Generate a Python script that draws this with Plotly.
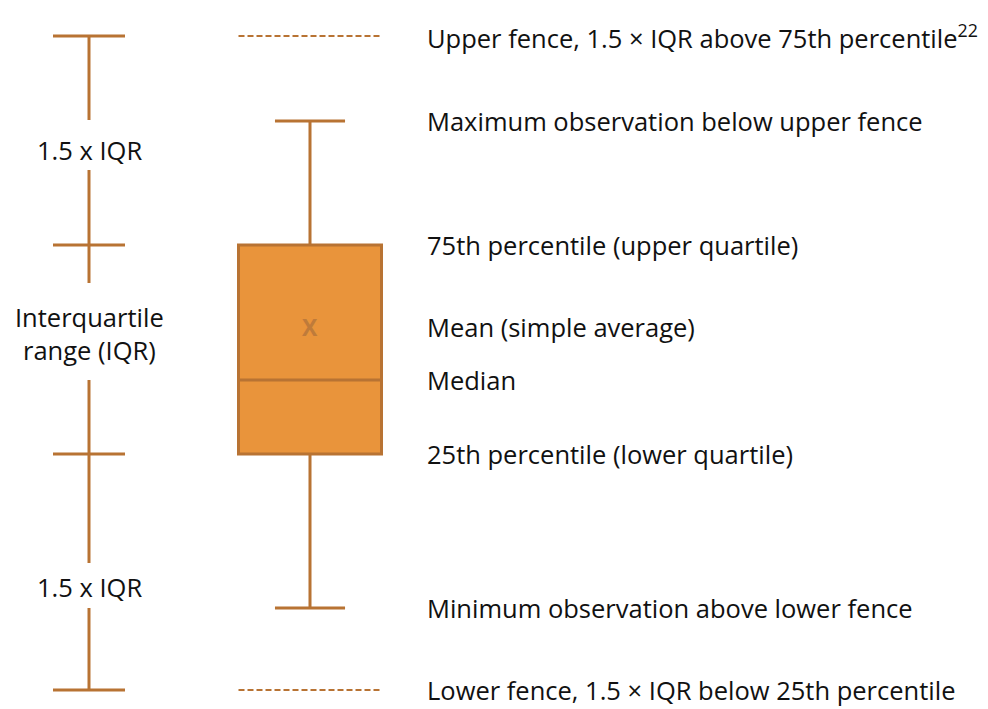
import plotly.graph_objects as go

# Schematic box-plot statistics (arbitrary units)
stat_names = ["upper_fence", "maximum", "q3", "mean", "median", "q1", "minimum", "lower_fence"]
upper_fence = 673
maximum = 588
q3 = 464
mean = 382
median = 329
q1 = 255
minimum = 101
lower_fence = 19

right_labels = [
    "Upper fence, 1.5 × IQR above 75th percentile<sup>22</sup>",
    "Maximum observation below upper fence",
    "75th percentile (upper quartile)",
    "Mean (simple average)",
    "Median",
    "25th percentile (lower quartile)",
    "Minimum observation above lower fence",
    "Lower fence, 1.5 × IQR below 25th percentile",
]
right_values = [upper_fence, maximum, q3, mean, median, q1, minimum, lower_fence]
left_labels = ["1.5 x IQR", "Interquartile<br>range (IQR)", "1.5 x IQR"]

LINE = "#B87333"
FILL = "#E9943B"
FONT = "Open Sans"
FS = 25.5

BOX_X = 310
BOX_W = 143
BRK_X = 89
CAP_HALF = 36

fig = go.Figure()

# main box
fig.add_trace(go.Box(
    x=[BOX_X], q1=[q1], median=[median], q3=[q3],
    lowerfence=[minimum], upperfence=[maximum],
    width=BOX_W, whiskerwidth=0.49,
    fillcolor=FILL, line=dict(color=LINE, width=3),
    boxpoints=False, showlegend=False, hoverinfo="skip",
))

# dashed fences
for fv in (upper_fence, lower_fence):
    fig.add_trace(go.Scatter(
        x=[BOX_X - BOX_W / 2, BOX_X + BOX_W / 2], y=[fv, fv], mode="lines",
        line=dict(color=LINE, width=2, dash="6px,3px"),
        showlegend=False, hoverinfo="skip",
    ))

# left bracket: caps
for v in (upper_fence, q3, q1, lower_fence):
    fig.add_trace(go.Scatter(
        x=[BRK_X - CAP_HALF, BRK_X + CAP_HALF], y=[v, v], mode="lines",
        line=dict(color=LINE, width=3), showlegend=False, hoverinfo="skip",
    ))

# left bracket: vertical segments with gaps for labels
label_y = [559, 376, 122]
gaps = [(539, 589), (329, 426), (101, 146)]
tops = [upper_fence, q3, q1]
bottoms = [q3, q1, lower_fence]
seg_x, seg_y = [], []
for top, bot, (g_lo, g_hi) in zip(tops, bottoms, gaps):
    seg_x += [BRK_X, BRK_X, None, BRK_X, BRK_X, None]
    seg_y += [top, g_hi, None, g_lo, bot, None]
fig.add_trace(go.Scatter(
    x=seg_x, y=seg_y, mode="lines", line=dict(color=LINE, width=3),
    showlegend=False, hoverinfo="skip",
))

annotations = []
# mean marker
annotations.append(dict(
    x=BOX_X, y=mean, xref="x", yref="y", text="<b>X</b>", showarrow=False,
    xanchor="center", yanchor="middle",
    font=dict(family=FONT, size=23, color="#BF7B3A"),
))
for lab, v in zip(right_labels, right_values):
    annotations.append(dict(
        x=425, y=v, xref="x", yref="y", text=lab, showarrow=False,
        xanchor="left", yanchor="middle",
        font=dict(family=FONT, size=FS, color="#111111"),
    ))
for lab, y in zip(left_labels, label_y):
    annotations.append(dict(
        x=BRK_X, y=y, xref="x", yref="y", text=lab, showarrow=False,
        xanchor="center", yanchor="middle",
        font=dict(family=FONT, size=FS, color="#111111"),
    ))

# page body adds an 8px offset; compensate via size and axis ranges
fig.update_layout(
    width=980, height=701,
    margin=dict(l=0, r=0, t=0, b=0),
    paper_bgcolor="white", plot_bgcolor="white",
    xaxis=dict(range=[8, 988], visible=False, fixedrange=True),
    yaxis=dict(range=[0, 701], visible=False, fixedrange=True),
    annotations=annotations,
    showlegend=False,
)

fig.write_html("out.html")
